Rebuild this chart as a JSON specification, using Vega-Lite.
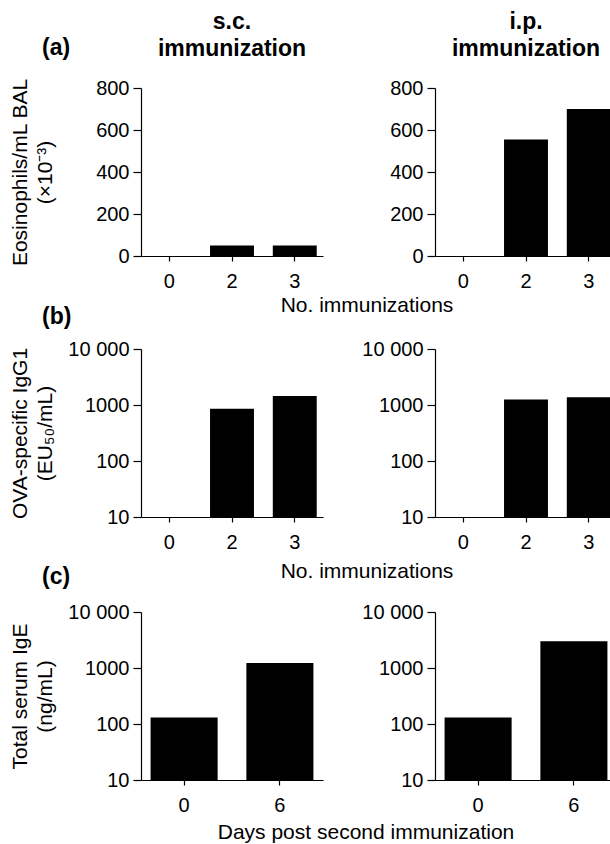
{
  "$schema": "https://vega.github.io/schema/vega-lite/v6.json",
  "background": "white",
  "padding": {"left": 9, "top": 11, "right": 5, "bottom": 0},
  "config": {
    "font": "Liberation Sans",
    "view": {"stroke": null},
    "axis": {
      "labelFont": "Liberation Sans", "labelFontSize": 20, "labelColor": "black",
      "titleFont": "Liberation Sans", "titleFontSize": 21, "titleFontWeight": "normal", "titleColor": "black",
      "domainColor": "black", "tickColor": "black", "grid": false,
      "domainWidth": 1.2, "tickWidth": 1.2
    },
    "axisX": {"labelAngle": 0, "title": null, "tickSize": 5, "labelPadding": 10},
    "axisY": {"tickSize": 8, "labelPadding": 4},
    "title": {"font": "Liberation Sans", "fontSize": 23, "fontWeight": "bold", "color": "black", "lineHeight": 27},
    "bar": {"color": "black"}
  },
  "datasets": {
    "eos_sc": [{"n": "0", "v": 0}, {"n": "2", "v": 50}, {"n": "3", "v": 50}],
    "eos_ip": [{"n": "0", "v": 0}, {"n": "2", "v": 555}, {"n": "3", "v": 700}],
    "igg1_sc": [{"n": "0", "v": 10}, {"n": "2", "v": 860}, {"n": "3", "v": 1450}],
    "igg1_ip": [{"n": "0", "v": 10}, {"n": "2", "v": 1260}, {"n": "3", "v": 1370}],
    "ige_sc": [{"n": "0", "v": 130}, {"n": "6", "v": 1230}],
    "ige_ip": [{"n": "0", "v": 130}, {"n": "6", "v": 3000}]
  },
  "spacing": -10,
  "vconcat": [
    {
      "title": {"text": "No. immunizations", "orient": "bottom", "anchor": "middle", "fontWeight": "normal", "fontSize": 21, "offset": 4, "dx": 54},
      "spacing": 66,
      "hconcat": [
        {
          "title": {"text": "(a)", "anchor": "start", "offset": -49, "dx": 33},
          "vconcat": [
            {
              "width": 182, "height": 168,
              "title": {"text": ["s.c.", "immunization"], "anchor": "middle", "frame": "group", "offset": 17},
              "data": {"name": "eos_sc"},
              "mark": {"type": "bar"},
              "encoding": {
                "x": {"field": "n", "type": "ordinal", "scale": {"paddingInner": 0.3, "paddingOuter": 0.1}},
                "y": {"field": "v", "type": "quantitative", "stack": null, "scale": {"domain": [0, 800], "nice": false},
                  "axis": {"values": [0, 200, 400, 600, 800], "title": ["Eosinophils/mL BAL", "(×10⁻³)"], "minExtent": 73, "maxExtent": 73, "titlePadding": 13, "titleLineHeight": 25}}
              }
            }
          ]
        },
        {
          "width": 182, "height": 168,
          "title": {"text": ["i.p.", "immunization"], "anchor": "middle", "frame": "group", "offset": 17},
          "data": {"name": "eos_ip"},
          "mark": {"type": "bar"},
          "encoding": {
            "x": {"field": "n", "type": "ordinal", "scale": {"paddingInner": 0.3, "paddingOuter": 0.1}},
            "y": {"field": "v", "type": "quantitative", "stack": null, "scale": {"domain": [0, 800], "nice": false},
              "axis": {"values": [0, 200, 400, 600, 800], "title": null}}
          }
        }
      ]
    },
    {
      "spacing": -16,
      "vconcat": [
        {
          "title": {"text": "(b)", "anchor": "start", "offset": 10, "dx": 33},
          "vconcat": [
            {
              "title": {"text": "No. immunizations", "orient": "bottom", "anchor": "middle", "fontWeight": "normal", "fontSize": 21, "offset": 9, "dx": 54},
              "spacing": 38,
              "hconcat": [
                {
                  "width": 182, "height": 168,
                  "data": {"name": "igg1_sc"},
                  "mark": {"type": "bar"},
                  "encoding": {
                    "x": {"field": "n", "type": "ordinal", "scale": {"paddingInner": 0.3, "paddingOuter": 0.1}},
                    "y": {"field": "v", "type": "quantitative", "stack": null, "scale": {"type": "log", "domain": [10, 10000], "nice": false},
                      "axis": {"values": [10, 100, 1000, 10000], "labelExpr": "datum.value >= 10000 ? '10 000' : format(datum.value, 'd')", "title": ["OVA-specific IgG1", "(EU₅₀/mL)"], "minExtent": 73, "maxExtent": 73, "titlePadding": 13, "titleLineHeight": 25}}
                  }
                },
                {
                  "width": 182, "height": 168,
                  "data": {"name": "igg1_ip"},
                  "mark": {"type": "bar"},
                  "encoding": {
                    "x": {"field": "n", "type": "ordinal", "scale": {"paddingInner": 0.3, "paddingOuter": 0.1}},
                    "y": {"field": "v", "type": "quantitative", "stack": null, "scale": {"type": "log", "domain": [10, 10000], "nice": false},
                      "axis": {"values": [10, 100, 1000, 10000], "labelExpr": "datum.value >= 10000 ? '10 000' : format(datum.value, 'd')", "title": null}}
                  }
                }
              ]
            }
          ]
        },
        {
          "title": {"text": "(c)", "anchor": "start", "offset": 13, "dx": 33},
          "vconcat": [
            {
              "title": {"text": "Days post second immunization", "orient": "bottom", "anchor": "middle", "fontWeight": "normal", "fontSize": 21, "offset": 7, "dx": 53},
              "spacing": 38,
              "hconcat": [
                {
                  "width": 182, "height": 168,
                  "data": {"name": "ige_sc"},
                  "mark": {"type": "bar"},
                  "encoding": {
                    "x": {"field": "n", "type": "ordinal", "scale": {"paddingInner": 0.3, "paddingOuter": 0.1}},
                    "y": {"field": "v", "type": "quantitative", "stack": null, "scale": {"type": "log", "domain": [10, 10000], "nice": false},
                      "axis": {"values": [10, 100, 1000, 10000], "labelExpr": "datum.value >= 10000 ? '10 000' : format(datum.value, 'd')", "title": ["Total serum IgE", "(ng/mL)"], "minExtent": 73, "maxExtent": 73, "titlePadding": 13, "titleLineHeight": 25}}
                  }
                },
                {
                  "width": 182, "height": 168,
                  "data": {"name": "ige_ip"},
                  "mark": {"type": "bar"},
                  "encoding": {
                    "x": {"field": "n", "type": "ordinal", "scale": {"paddingInner": 0.3, "paddingOuter": 0.1}},
                    "y": {"field": "v", "type": "quantitative", "stack": null, "scale": {"type": "log", "domain": [10, 10000], "nice": false},
                      "axis": {"values": [10, 100, 1000, 10000], "labelExpr": "datum.value >= 10000 ? '10 000' : format(datum.value, 'd')", "title": null}}
                  }
                }
              ]
            }
          ]
        }
      ]
    }
  ]
}
